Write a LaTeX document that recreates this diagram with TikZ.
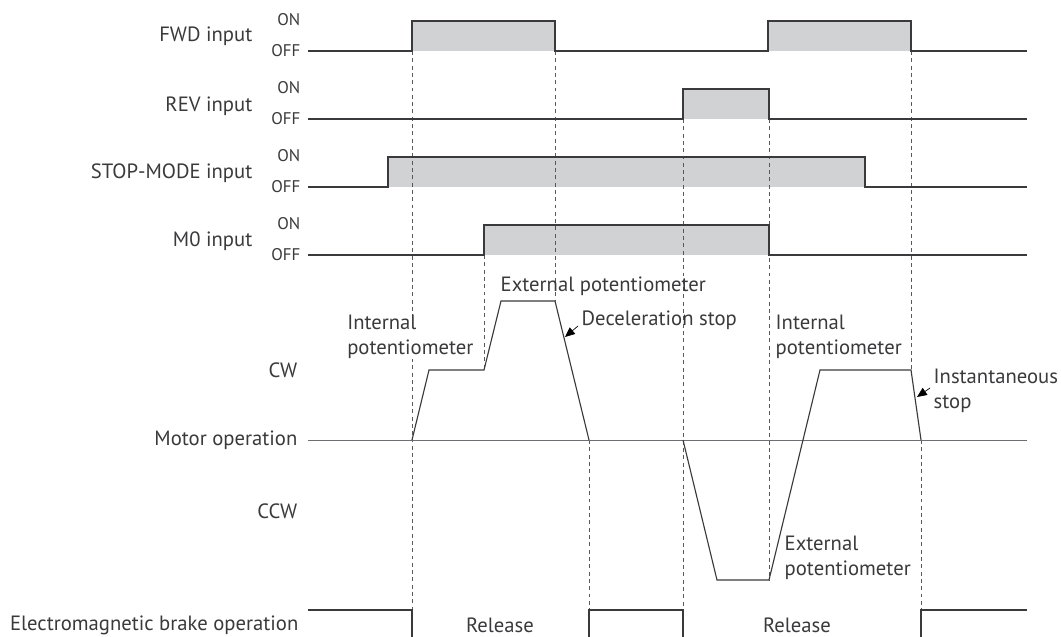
\documentclass[tikz,border=0pt]{standalone}
\usepackage{fontspec}
\setmainfont{PT Sans}
\usepackage{tikz}
\usepackage{xcolor}
\usetikzlibrary{positioning,arrows.meta}
\definecolor{wave}{HTML}{3A3A3C}
\definecolor{pulse}{HTML}{D1D2D4}
\definecolor{guide}{HTML}{58595B}
\definecolor{axis}{HTML}{6D6E71}

\begin{document}
\begin{tikzpicture}[x=0.025cm,y=-0.025cm,every node/.style={font=\fontsize{14.7}{17.7}\selectfont,inner sep=1pt,text=wave}]
   \tikzstyle{sig}=[draw=wave,line width=1.05pt];
   \tikzstyle{hi}=[fill=pulse];
   \tikzstyle{g}=[draw=guide,line width=0.6pt,dash pattern=on 2.8pt off 2.4pt];
   \tikzstyle{lvl}=[anchor=east,font=\fontsize{12}{14}\selectfont];
   \tikzstyle{rowl}=[anchor=east];
   \tikzstyle{note}=[anchor=west,align=left];
   \tikzstyle{tip}=[draw=black,-{Triangle[length=7pt,width=6pt]},line width=0.5pt];
   \useasboundingbox (0,0) rectangle (1061,637);
   % pulses
   \fill[hi] (412,21) rectangle (555,51);
   \fill[hi] (768,21) rectangle (911,51);
   \fill[hi] (683,89) rectangle (769,119);
   \fill[hi] (388,157) rectangle (865,187);
   \fill[hi] (484,225) rectangle (769,255);
   % guides
   \draw[g] (412,51) -- (412,610);
   \draw[g] (484,255) -- (484,370);
   \draw[g] (555,51) -- (555,301);
   \draw[g] (589,440) -- (589,610);
   \draw[g] (683,119) -- (683,610);
   \draw[g] (769,119) -- (769,580);
   \draw[g] (911,51) -- (911,370);
   \draw[g] (921,440) -- (921,610);
   % inputs
   \node[rowl] (fwd)  at (254,36)  {FWD input};
   \node[rowl] (rev)  at (254,106) {REV input};
   \node[rowl] (stop) at (254,173) {STOP-MODE input};
   \node[rowl] (m0)   at (254,241) {M0 input};
   \foreach \y/\n in {20/fwd,88/rev,156/stop,224/m0}{
     \node[lvl] (\n on)  at (302,\y)    {ON};
     \node[lvl] (\n off) at (302,\y+31) {OFF};
   }
   \draw[sig] (308,51) -- (412,51) -- (412,21) -- (555,21) -- (555,51) -- (768,51)
              -- (768,21) -- (911,21) -- (911,51) -- (1027,51);
   \draw[sig] (308,119) -- (683,119) -- (683,89) -- (769,89) -- (769,119) -- (1027,119);
   \draw[sig] (308,187) -- (388,187) -- (388,157) -- (865,157) -- (865,187) -- (1027,187);
   \draw[sig] (308,255) -- (484,255) -- (484,225) -- (769,225) -- (769,255) -- (1027,255);
   % motor
   \node[rowl] (cw)  at (299,370) {CW};
   \node[rowl] (mot) at (299,440) {Motor operation};
   \node[rowl] (ccw) at (299,511) {CCW};
   \draw[draw=axis,line width=0.7pt] (308,440) -- (1027,440);
   \draw[sig,line width=0.8pt] (412,440) -- (429,370) -- (484,370) -- (501,301) -- (555,301) -- (589,440);
   \draw[sig,line width=0.8pt] (683,440) -- (717,580) -- (769,580) -- (820,370) -- (911,370) -- (921,440);
   \node[note,fill=white,inner sep=0pt] (int1) at (347,337) {Internal\\potentiometer};
   \node[note] (ext1) at (499,286) {External potentiometer};
   \node[note] (dec)  at (580,320) {Deceleration stop};
   \node[note] (int2) at (774,337) {Internal\\potentiometer};
   \node[note] (inst) at (932,391) {Instantaneous\\stop};
   \node[note] (ext2) at (783,558) {External\\potentiometer};
   \coordinate (decpt)  at (565,337);
   \coordinate (instpt) at (917,397);
   \draw[tip] ([shift={(-2,6)}]dec.west) -- (decpt);
   \draw[tip] ([shift={(-2,-3)}]inst.west) -- (instpt);
   % brake
   \node[rowl] (brk) at (300,625) {Electromagnetic brake operation};
   \draw[sig] (308,610) -- (412,610) -- (412,640);
   \draw[sig] (589,640) -- (589,610) -- (683,610) -- (683,640);
   \draw[sig] (921,640) -- (921,610) -- (1027,610);
   \node (rel1) at (500,625) {Release};
   \node (rel2) at (797,625) {Release};
  \end{tikzpicture}
\end{document}
